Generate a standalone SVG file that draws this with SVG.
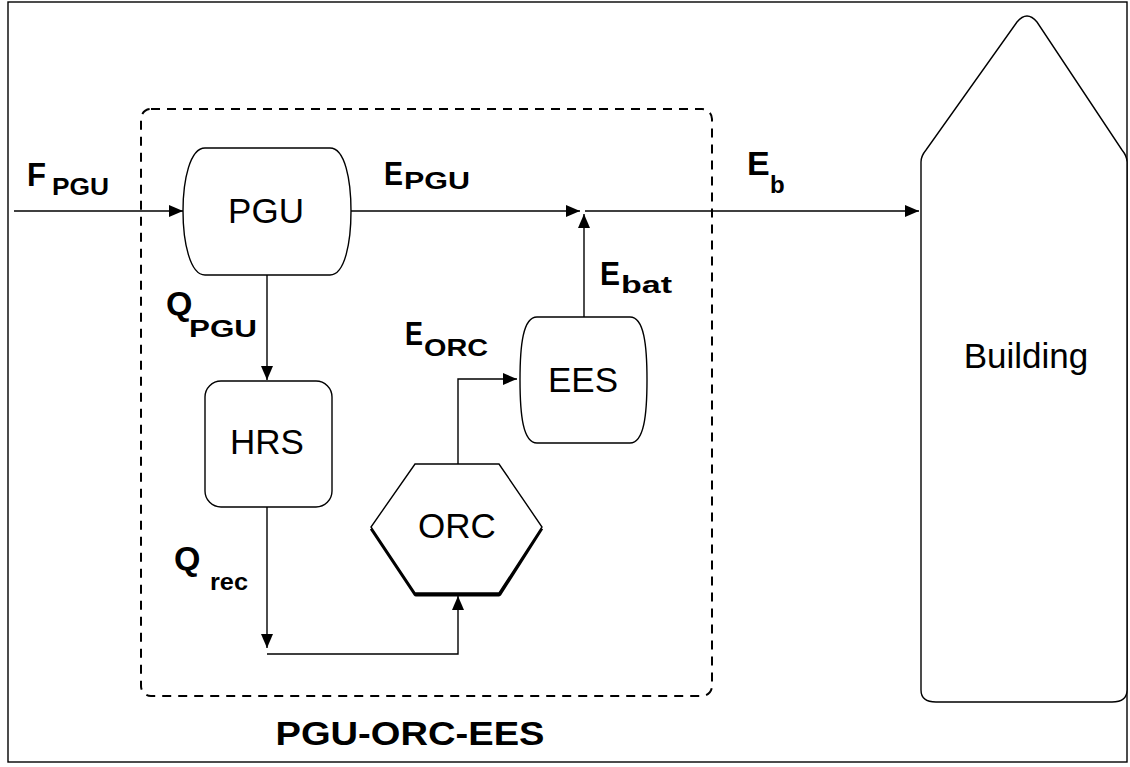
<svg xmlns="http://www.w3.org/2000/svg" width="1130" height="767" viewBox="0 0 1130 767">
<style>
.ln{fill:none;stroke:#000;stroke-width:1.4}
.nd{fill:#fff;stroke:#000;stroke-width:1.4}
.lbl{font-family:"Liberation Sans",Arial,sans-serif;font-size:35px;fill:#000;text-anchor:middle}
.m{font-family:"Liberation Sans",Arial,sans-serif;font-size:34px;font-weight:bold;fill:#000}
.s{font-family:"Liberation Sans",Arial,sans-serif;font-size:24px;font-weight:bold;fill:#000}
</style>
<defs>
<marker id="ah" viewBox="0 0 14 12" refX="14" refY="6" markerWidth="14" markerHeight="12" markerUnits="userSpaceOnUse" orient="auto">
<path d="M0,0 L14,6 L0,12 Z" fill="#000"/>
</marker>
</defs>
<rect x="0" y="0" width="1130" height="767" fill="#fff"/>
<rect id="frame" x="8" y="2" width="1119" height="760" fill="none" stroke="#000" stroke-width="1.4"/>
<g id="boundary">
<rect x="141" y="109" width="571" height="587" rx="10" fill="none" stroke="#000" stroke-width="2" stroke-dasharray="9,7"/>
<text x="410" y="745" class="m" text-anchor="middle" font-size="35" textLength="269" lengthAdjust="spacingAndGlyphs">PGU-ORC-EES</text>
</g>
<g id="building">
<path class="nd" d="M921,690 V162 Q921,156 926,150 L1017,22 Q1027,10 1037,22 L1122,150 Q1127,156 1127,162 V690 Q1127,702 1112,702 H936 Q921,702 921,690 Z"/>
<text x="1026" y="368" class="lbl">Building</text>
</g>
<g id="pgu">
<path class="nd" d="M205,148 H330 C345,148 351,180 351,211 C351,242 345,275 330,275 H205 C190,275 183,242 183,211 C183,180 190,148 205,148 Z"/>
<text x="266" y="223" class="lbl">PGU</text>
</g>
<g id="hrs">
<rect class="nd" x="205" y="381" width="127" height="126" rx="16"/>
<text x="267" y="454" class="lbl">HRS</text>
</g>
<g id="ees">
<path class="nd" d="M537,317 H630 C644,317 647,345 647,380 C647,415 644,443 630,443 H537 C523,443 520,415 520,380 C520,345 523,317 537,317 Z"/>
<text x="583" y="392" class="lbl">EES</text>
</g>
<g id="orc">
<polyline points="372,528 416,594 499,594 541,528" fill="none" stroke="#000" stroke-width="5" stroke-linejoin="round"/>
<polygon class="nd" points="415,464 499,464 542,527 499,593 415,593 371,527"/>
<text x="457" y="538" class="lbl">ORC</text>
</g>
<g id="connectors">
<line class="ln" x1="14" y1="211" x2="183" y2="211" marker-end="url(#ah)"/>
<line class="ln" x1="351" y1="211" x2="580" y2="211" marker-end="url(#ah)"/>
<line class="ln" x1="585" y1="211" x2="919" y2="211" marker-end="url(#ah)"/>
<line class="ln" x1="584" y1="317" x2="584" y2="214" marker-end="url(#ah)"/>
<line class="ln" x1="267" y1="275" x2="267" y2="380" marker-end="url(#ah)"/>
<line class="ln" x1="267" y1="507" x2="267" y2="648" marker-end="url(#ah)"/>
<polyline class="ln" points="267,654 458,654 458,596" marker-end="url(#ah)"/>
<polyline class="ln" points="458,464 458,379 517,379" marker-end="url(#ah)"/>
</g>
<g id="labels">
<text x="27" y="186" class="m" textLength="19" lengthAdjust="spacingAndGlyphs">F</text><text x="52" y="195" class="s" textLength="57" lengthAdjust="spacingAndGlyphs">PGU</text>
<text x="384" y="185" class="m" textLength="19" lengthAdjust="spacingAndGlyphs">E</text><text x="404" y="189" class="s" textLength="66" lengthAdjust="spacingAndGlyphs">PGU</text>
<text x="747" y="175" class="m">E</text><text x="770" y="193" class="s">b</text>
<text x="166" y="315" class="m">Q</text><text x="189" y="337" class="s" textLength="68" lengthAdjust="spacingAndGlyphs">PGU</text>
<text x="405" y="345" class="m" textLength="18" lengthAdjust="spacingAndGlyphs">E</text><text x="424" y="356" class="s" textLength="64" lengthAdjust="spacingAndGlyphs">ORC</text>
<text x="600" y="285" class="m" textLength="20" lengthAdjust="spacingAndGlyphs">E</text><text x="621" y="293" class="s" textLength="51" lengthAdjust="spacingAndGlyphs">bat</text>
<text x="174" y="570" class="m">Q</text><text x="210" y="590" class="s" textLength="38" lengthAdjust="spacingAndGlyphs">rec</text>
</g>
</svg>
